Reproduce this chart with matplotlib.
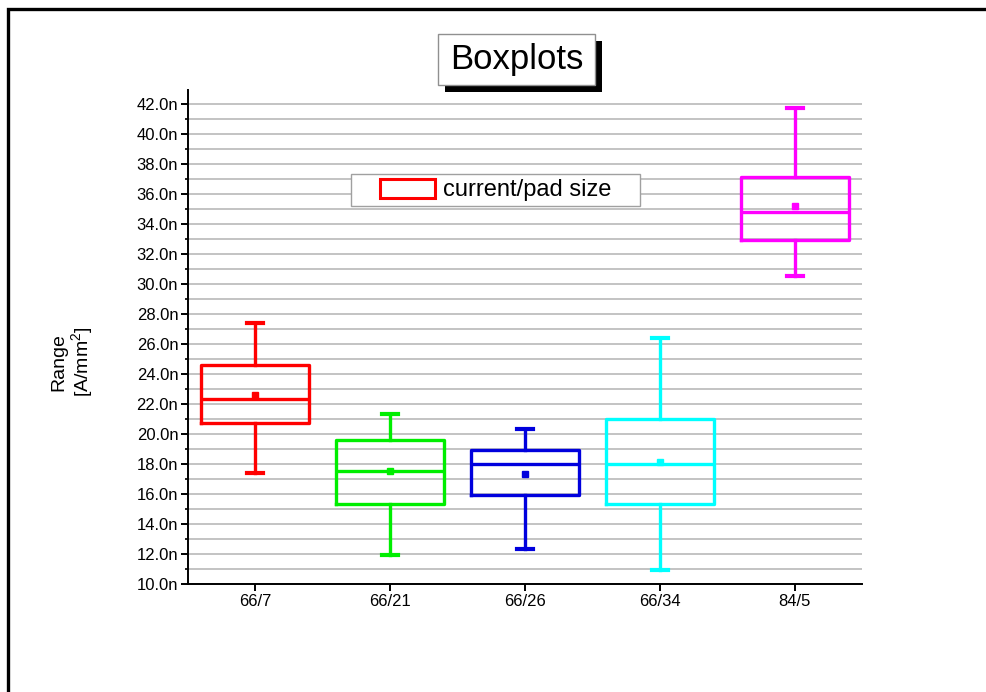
import matplotlib
matplotlib.use("Agg")
import matplotlib.pyplot as plt
from matplotlib.patches import Patch, Rectangle
from matplotlib.ticker import MultipleLocator, FuncFormatter

plt.rcParams["font.family"] = ["Liberation Sans", "DejaVu Sans"]
plt.rcParams["mathtext.default"] = "regular"

# current density per pad group, in nA/mm^2
groups = ["66/7", "66/21", "66/26", "66/34", "84/5"]
whis_hi = [27.4, 21.3, 20.3, 26.4, 41.7]
q3 = [24.6, 19.6, 18.9, 21.0, 37.1]
median = [22.3, 17.5, 18.0, 18.0, 34.8]
q1 = [20.7, 15.3, 15.9, 15.3, 32.9]
whis_lo = [17.4, 11.9, 12.3, 10.9, 30.5]
means = [22.6, 17.5, 17.3, 18.1, 35.2]
colors = ["#ff0000", "#00ee00", "#0000dd", "#00ffff", "#ff00ff"]

W, H = 986, 692
fig = plt.figure(figsize=(W / 100, H / 100), dpi=100)
ax = fig.add_axes([188 / W, 1 - 584 / H, 674 / W, 494 / H])


def px_rect(x0, y0, x1, y1, **kw):
    """Rectangle in figure pixels measured from the top-left corner."""
    return Rectangle((x0 / W, 1 - y1 / H), (x1 - x0) / W, (y1 - y0) / H,
                     transform=fig.transFigure, **kw)


for i, name in enumerate(groups):
    stats = [dict(label=name, whislo=whis_lo[i], q1=q1[i], med=median[i],
                  q3=q3[i], whishi=whis_hi[i], mean=means[i], fliers=[])]
    c = colors[i]
    ax.bxp(stats, positions=[i + 1], widths=0.8, capwidths=0.12,
           showmeans=True, showfliers=False, patch_artist=False,
           boxprops=dict(color=c, lw=2.4),
           medianprops=dict(color=c, lw=2.4),
           whiskerprops=dict(color=c, lw=2.4),
           capprops=dict(color=c, lw=3.0),
           meanprops=dict(marker="s", markersize=4, markerfacecolor=c,
                          markeredgecolor=c), zorder=3)

ax.set_xlim(0.5, 5.5)
ax.set_ylim(10, 42.9)
ax.set_xticks(range(1, len(groups) + 1))
ax.set_xticklabels(groups)
ax.yaxis.set_major_locator(MultipleLocator(2))
ax.yaxis.set_minor_locator(MultipleLocator(1))
ax.yaxis.set_major_formatter(FuncFormatter(lambda v, _: f"{v:.1f}n"))
ax.grid(True, axis="y", which="both", color="#bebebe", lw=1.3, zorder=0)
ax.set_axisbelow(True)

for side in ("top", "right"):
    ax.spines[side].set_visible(False)
for side in ("left", "bottom"):
    ax.spines[side].set_linewidth(1.4)
ax.tick_params(axis="both", which="major", direction="out", length=5,
               width=1.4, labelsize=12, pad=2)
ax.tick_params(axis="y", which="minor", direction="out", length=2.5, width=1.2)
ax.tick_params(axis="x", which="minor", length=0)

ax.set_ylabel("Range\n[A/mm$^2$]", fontsize=14, linespacing=1.1)
ax.yaxis.set_label_coords(-0.138, 0.45)

# legend: entry without its own frame, grey frame drawn behind it
fig.add_artist(px_rect(351, 174, 640, 206, facecolor="white",
                       edgecolor="#a0a0a0", lw=1.0, zorder=4))
leg = fig.legend(handles=[Patch(facecolor="white", edgecolor="#ff0000", lw=2.2,
                                label="current/pad size")],
                 loc="center", bbox_to_anchor=(495.5 / W, 1 - 190 / H),
                 fontsize=17, frameon=False,
                 handlelength=2.33, handleheight=0.85, handletextpad=0.35,
                 borderpad=0.2, borderaxespad=0)
leg.set_zorder(6)

# title box with drop shadow
fig.add_artist(px_rect(445, 41, 602, 92, facecolor="black", edgecolor="black",
                       lw=0, zorder=4))
fig.add_artist(px_rect(438, 34, 595, 85, facecolor="white", edgecolor="#909090",
                       lw=1.0, zorder=4))
fig.text(516.5 / W, 1 - 60 / H, "Boxplots", ha="center", va="center",
         fontsize=25, color="black", zorder=5)

# page frame
fig.add_artist(Rectangle((8 / W, -0.2), 1.2, 1.2 - 9 / H, fill=False,
                         edgecolor="black", lw=2.4, transform=fig.transFigure,
                         clip_on=False))

fig.savefig("out.png", dpi=100)
